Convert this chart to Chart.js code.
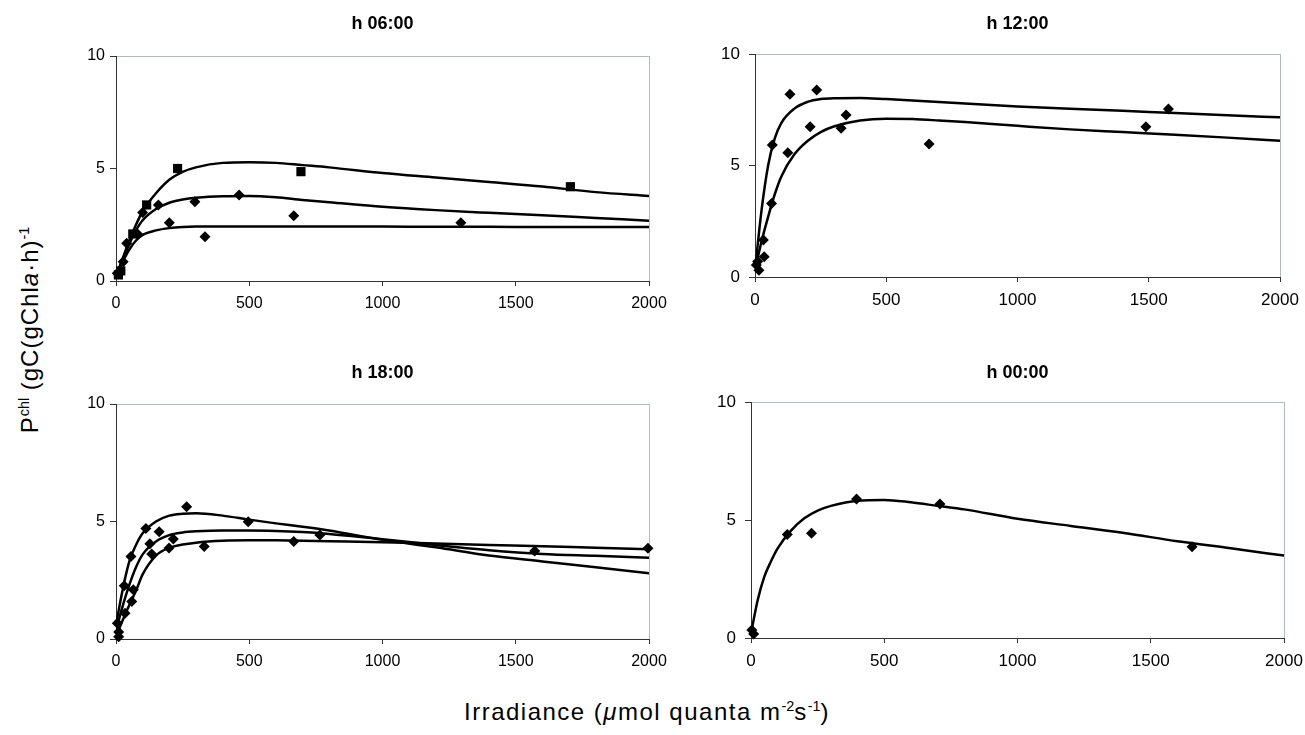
<!DOCTYPE html>
<html>
<head>
<meta charset="utf-8">
<script src="https://cdn.jsdelivr.net/npm/chart.js@4.4.1/dist/chart.umd.min.js"></script>
<style>
body { margin: 0; background: #fff; width: 1305px; height: 735px; position: relative; overflow: hidden; font-family: "Liberation Sans", Arial, sans-serif; }
canvas { position: absolute; }
#ylab { position: absolute; left: 30px; top: 330px; transform: translate(-50%, -50%) rotate(-90deg); white-space: nowrap; font-size: 24px; letter-spacing: 1px; color: #000; }
#xlab { position: absolute; left: 647px; top: 712px; transform: translate(-50%, -50%); white-space: nowrap; font-size: 24px; letter-spacing: 1.5px; color: #000; }
sup { font-size: 60%; letter-spacing: 0; }
</style>
</head>
<body>
<canvas id="c06"></canvas>
<canvas id="c12"></canvas>
<canvas id="c18"></canvas>
<canvas id="c00"></canvas>
<div id="ylab">P<sup>chl</sup> (gC(gChl<i>a</i>·h)<sup>-1</sup></div>
<div id="xlab">Irradiance (<i>μ</i>mol quanta m<sup>-2</sup>s<sup>-1</sup>)</div>
<script>
// irradiance grid the fitted curves are read at
let curveX = [0, 25, 50, 75, 100, 150, 200, 250, 300, 400, 500, 600, 700, 800, 1000, 1200, 1400, 1600, 1800, 2000];

// h 06:00
let fit06a = [0.2, 1.0, 1.8, 2.5, 3.1, 3.9, 4.5, 4.85, 5.05, 5.25, 5.28, 5.25, 5.15, 5.05, 4.8, 4.6, 4.4, 4.2, 3.95, 3.78];
let fit06b = [0.2, 0.95, 1.65, 2.25, 2.7, 3.2, 3.48, 3.62, 3.7, 3.77, 3.78, 3.72, 3.6, 3.5, 3.3, 3.15, 3.03, 2.92, 2.8, 2.68];
let fit06c = [0.2, 0.85, 1.4, 1.8, 2.05, 2.25, 2.35, 2.4, 2.42, 2.42, 2.42, 2.42, 2.42, 2.42, 2.42, 2.41, 2.41, 2.4, 2.4, 2.4];
let sq06X = [9, 18, 63, 115, 231, 694, 1705];
let sq06Y = [0.27, 0.45, 2.09, 3.38, 5.0, 4.86, 4.19];
let dm06X = [5, 27, 40, 80, 100, 159, 200, 296, 334, 462, 667, 1294];
let dm06Y = [0.35, 0.86, 1.68, 2.1, 3.05, 3.38, 2.59, 3.52, 1.97, 3.82, 2.9, 2.59];

// h 12:00
let fit12a = [0.3, 3.0, 5.0, 6.2, 6.9, 7.55, 7.85, 7.98, 8.02, 8.03, 7.98, 7.92, 7.85, 7.78, 7.65, 7.55, 7.45, 7.35, 7.25, 7.16];
let fit12b = [0.3, 1.6, 2.7, 3.7, 4.5, 5.5, 6.1, 6.5, 6.75, 7.02, 7.1, 7.08, 7.02, 6.95, 6.78, 6.62, 6.5, 6.38, 6.25, 6.11];
let dm12X = [5, 10, 15, 32, 35, 63, 66, 125, 133, 210, 235, 328, 347, 663, 1489, 1575];
let dm12Y = [0.54, 0.7, 0.3, 1.66, 0.91, 3.3, 5.92, 5.57, 8.19, 6.74, 8.39, 6.67, 7.26, 5.96, 6.74, 7.53];

// h 18:00
let fit18a = [0.6, 2.1, 3.3, 4.0, 4.5, 5.0, 5.25, 5.33, 5.35, 5.25, 5.08, 4.92, 4.78, 4.62, 4.22, 3.9, 3.55, 3.3, 3.05, 2.8];
let fit18b = [0.35, 1.4, 2.3, 3.05, 3.6, 4.15, 4.42, 4.53, 4.58, 4.62, 4.62, 4.6, 4.55, 4.47, 4.25, 4.0, 3.78, 3.62, 3.54, 3.46];
let fit18c = [0.1, 0.8, 1.45, 2.05, 2.75, 3.55, 3.88, 4.02, 4.1, 4.18, 4.2, 4.2, 4.18, 4.16, 4.12, 4.06, 4.0, 3.95, 3.88, 3.82];
let dm18X = [5, 10, 10, 31, 34, 56, 59, 65, 112, 127, 134, 162, 199, 215, 265, 331, 496, 667, 765, 1571, 1996];
let dm18Y = [0.67, 0.3, 0.1, 2.27, 1.1, 3.51, 1.6, 2.1, 4.7, 4.05, 3.62, 4.56, 3.87, 4.26, 5.63, 3.94, 4.99, 4.15, 4.43, 3.75, 3.86];

// h 00:00
let fit00a = [0.2, 1.6, 2.6, 3.25, 3.8, 4.55, 5.07, 5.4, 5.6, 5.82, 5.85, 5.75, 5.6, 5.45, 5.05, 4.75, 4.45, 4.1, 3.8, 3.49];
let dm00X = [3, 10, 136, 227, 396, 709, 1655];
let dm00Y = [0.34, 0.17, 4.39, 4.44, 5.89, 5.68, 3.87];

let fontFam = '"Liberation Sans", Arial, sans-serif';
let frameColor = '#aebcc2';
let axisColor = '#333';

function pts(xs, ys) {
    return xs.map((x, i) => ({x: x, y: ys[i]}));
}

function makePanel(id, title, box, curves, marks) {
    let cv = document.getElementById(id);
    cv.width = box.w;
    cv.height = box.h;
    cv.style.left = box.left + 'px';
    cv.style.top = box.top + 'px';

    let datasets = [];
    marks.forEach(m => {
        datasets.push({
            data: pts(m.x, m.y),
            showLine: false,
            pointStyle: m.style,
            pointRadius: m.r,
            backgroundColor: '#000',
            borderColor: '#000',
            borderWidth: 0,
            clip: false
        });
    });
    curves.forEach(c => {
        datasets.push({
            data: pts(curveX, c),
            showLine: true,
            borderColor: '#000',
            borderWidth: 2.5,
            pointRadius: 0,
            cubicInterpolationMode: 'monotone',
            fill: false
        });
    });

    new Chart(cv, {
        type: 'scatter',
        data: {datasets: datasets},
        options: {
            responsive: false,
            animation: false,
            layout: {padding: {left: 0, top: 0, right: box.right, bottom: 0}},
            plugins: {
                legend: {display: false},
                tooltip: {enabled: false},
                title: {
                    display: true,
                    text: title,
                    fullSize: false,
                    color: '#000',
                    font: {family: fontFam, size: 18, weight: 'bold', lineHeight: 1.2},
                    padding: {top: box.tTop, bottom: box.tBot}
                }
            },
            scales: {
                x: {
                    type: 'linear',
                    min: 0,
                    max: 2000,
                    ticks: {stepSize: 500, color: '#000', padding: 8, maxRotation: 0,
                        font: {family: fontFam, size: box.fs},
                        callback: v => String(v)},
                    grid: {
                        color: c => (c.tick && c.tick.value === 2000) ? frameColor : 'rgba(0,0,0,0)',
                        tickColor: axisColor,
                        tickLength: 5
                    },
                    border: {color: axisColor, width: 1},
                    afterFit: s => { s.height = 40; }
                },
                y: {
                    min: 0,
                    max: 10,
                    ticks: {stepSize: 5, color: '#000', padding: box.yPad,
                        font: {family: fontFam, size: box.fs},
                        callback: v => String(v)},
                    grid: {
                        color: c => (c.tick && c.tick.value === 10) ? frameColor : 'rgba(0,0,0,0)',
                        tickColor: axisColor,
                        tickLength: 6
                    },
                    border: {color: axisColor, width: 1},
                    afterFit: s => { s.width = 60; }
                }
            }
        }
    });
}

makePanel('c06', 'h 06:00',
    {left: 56, top: 0, w: 623, h: 321, right: 30, tTop: 13.2, tBot: 21.2, fs: 16, yPad: 5},
    [fit06a, fit06b, fit06c],
    [{x: sq06X, y: sq06Y, style: 'rect', r: 6.5}, {x: dm06X, y: dm06Y, style: 'rectRot', r: 5.5}]);

makePanel('c12', 'h 12:00',
    {left: 695, top: 0, w: 615, h: 317, right: 30, tTop: 13.2, tBot: 19.2, fs: 17, yPad: 9},
    [fit12a, fit12b],
    [{x: dm12X, y: dm12Y, style: 'rectRot', r: 5.5}]);

makePanel('c18', 'h 18:00',
    {left: 56, top: 348, w: 623, h: 331, right: 30, tTop: 14.2, tBot: 20.2, fs: 16, yPad: 5},
    [fit18a, fit18b, fit18c],
    [{x: dm18X, y: dm18Y, style: 'rectRot', r: 5.5}]);

makePanel('c00', 'h 00:00',
    {left: 691, top: 346, w: 623, h: 332, right: 30, tTop: 16.2, tBot: 18.2, fs: 17, yPad: 9},
    [fit00a],
    [{x: dm00X, y: dm00Y, style: 'rectRot', r: 5.5}]);
</script>
</body>
</html>
